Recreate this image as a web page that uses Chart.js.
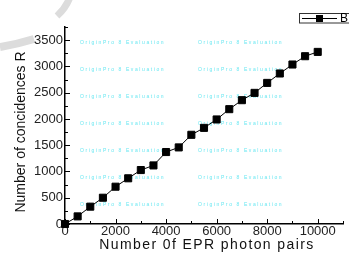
<!DOCTYPE html>
<html>
<head>
<meta charset="utf-8">
<script src="https://cdn.jsdelivr.net/npm/chart.js@4/dist/chart.umd.min.js"></script>
<style>
  html, body { margin: 0; padding: 0; background: #fff; overflow: hidden; }
  #wrap { position: relative; width: 349px; height: 259px; }
</style>
</head>
<body>
<div id="wrap"><canvas id="chart" width="349" height="259"></canvas></div>
<script>
  // ─── Data ──────────────────────────────────────────
  const eprPairs = [0, 500, 1000, 1500, 2000, 2500, 3000, 3500, 4000, 4500, 5000,
    5500, 6000, 6500, 7000, 7500, 8000, 8500, 9000, 9500, 10000];
  const coincidences = [0, 145, 330, 500, 710, 870, 1027, 1115, 1370, 1458, 1698,
    1830, 1990, 2186, 2357, 2496, 2686, 2865, 3036, 3194, 3276];
  const xTicks = [0, 2000, 4000, 6000, 8000, 10000];
  const yTicks = [0, 500, 1000, 1500, 2000, 2500, 3000, 3500];
  const seriesName = 'B';
  const xTitle = 'Number 0f EPR photon pairs';
  const yTitle = 'Number of concidences R';
  const watermark = 'OriginPro 8 Evaluation';

  const FONT = "'Liberation Sans', Arial, sans-serif";

  // ─── Decorations ───────────────────────────────────
  const decor = {
    id: 'decor',
    beforeDraw(chart) {
      const { ctx } = chart;
      // faint gray stamp pieces outside the plot
      ctx.save();
      ctx.strokeStyle = '#dcdcdc';
      ctx.lineCap = 'butt';
      ctx.lineWidth = 7;
      ctx.beginPath();
      ctx.moveTo(70, -3);
      ctx.quadraticCurveTo(66, 8, 57, 16);
      ctx.stroke();
      ctx.lineWidth = 8;
      ctx.beginPath();
      ctx.moveTo(0, 47);
      ctx.quadraticCurveTo(18, 44, 34, 39);
      ctx.stroke();
      ctx.restore();
    },
    beforeDatasetsDraw(chart) {
      const { ctx, chartArea: a } = chart;
      ctx.save();
      ctx.fillStyle = 'rgb(110,232,242)';
      ctx.font = '5px ' + FONT;
      ctx.letterSpacing = '1.6px';
      ctx.textBaseline = 'middle';
      for (let r = 0; r < 7; r++) {
        const y = a.top + 16 + r * 27;
        ctx.fillText(watermark, a.left + 15, y);
        ctx.fillText(watermark, a.left + 133, y);
      }
      ctx.restore();
    },
    afterDraw(chart) {
      const { ctx, chartArea: a, scales } = chart;
      const xs = scales.x, ys = scales.y;
      ctx.save();
      ctx.strokeStyle = '#000';
      ctx.lineWidth = 1;
      // inward ticks on y
      for (let v = 0; v <= 3750; v += 250) {
        const y = Math.round(ys.getPixelForValue(v)) + 0.5;
        const len = v % 500 === 0 ? 5 : 3;
        ctx.beginPath();
        ctx.moveTo(a.left, y);
        ctx.lineTo(a.left + len, y);
        ctx.stroke();
      }
      // inward ticks on x
      for (let v = 0; v <= 11000; v += 1000) {
        const x = Math.round(xs.getPixelForValue(v)) + 0.5;
        const len = v % 2000 === 0 ? 5 : 3;
        ctx.beginPath();
        ctx.moveTo(x, a.bottom);
        ctx.lineTo(x, a.bottom - len);
        ctx.stroke();
      }

      // axis titles
      ctx.fillStyle = '#111';
      ctx.font = '14px ' + FONT;
      ctx.letterSpacing = '1.4px';
      ctx.textAlign = 'center';
      ctx.textBaseline = 'middle';
      ctx.fillText(xTitle, 207, 245);
      ctx.letterSpacing = '0px';
      ctx.translate(21, 132);
      ctx.rotate(-Math.PI / 2);
      ctx.fillText(yTitle, 0, 0);
      ctx.restore();

      // legend box (runs off the right edge)
      ctx.save();
      ctx.fillStyle = '#fff';
      ctx.strokeStyle = '#333';
      ctx.lineWidth = 1;
      ctx.fillRect(299.5, 13.5, 60, 9.5);
      ctx.strokeRect(299.5, 13.5, 60, 9.5);
      ctx.beginPath();
      ctx.moveTo(302, 18.5);
      ctx.lineTo(337, 18.5);
      ctx.strokeStyle = '#000';
      ctx.stroke();
      ctx.fillStyle = '#000';
      ctx.fillRect(316, 15, 7, 7);
      ctx.font = '12px ' + FONT;
      ctx.textBaseline = 'middle';
      ctx.fillText(seriesName, 340, 18.5);
      ctx.restore();
    },
  };

  // ─── Chart ─────────────────────────────────────────
  new Chart(document.getElementById('chart'), {
    type: 'line',
    data: {
      datasets: [{
        label: seriesName,
        data: eprPairs.map((x, i) => ({ x, y: coincidences[i] })),
        borderColor: '#000',
        borderWidth: 1,
        backgroundColor: '#000',
        pointStyle: 'rect',
        pointRadius: 5,
        pointBorderWidth: 1,
        pointBorderColor: '#000',
        pointBackgroundColor: '#000',
        tension: 0,
        clip: false,
      }],
    },
    options: {
      responsive: false,
      animation: false,
      layout: { padding: { top: 27, left: 0, right: 0, bottom: 0 } },
      plugins: { legend: { display: false }, tooltip: { enabled: false } },
      scales: {
        x: {
          type: 'linear',
          min: 0,
          max: 11000,
          afterFit: (s) => { s.height = 35; },
          afterBuildTicks: (s) => { s.ticks = xTicks.map((value) => ({ value })); },
          ticks: {
            autoSkip: false,
            maxRotation: 0,
            padding: 0,
            color: '#222',
            font: { family: FONT, size: 13 },
            callback: (v) => String(v),
          },
          grid: { display: false, drawTicks: false },
          border: { display: true, color: '#000', width: 1.5 },
        },
        y: {
          min: 0,
          max: 3750,
          afterFit: (s) => { s.width = 65; },
          afterBuildTicks: (s) => { s.ticks = yTicks.map((value) => ({ value })); },
          ticks: {
            autoSkip: false,
            padding: 2,
            color: '#222',
            font: { family: FONT, size: 13 },
            callback: (v) => String(v),
          },
          grid: { display: false, drawTicks: false },
          border: { display: true, color: '#000', width: 1.5 },
        },
      },
    },
    plugins: [decor],
  });
</script>
</body>
</html>
